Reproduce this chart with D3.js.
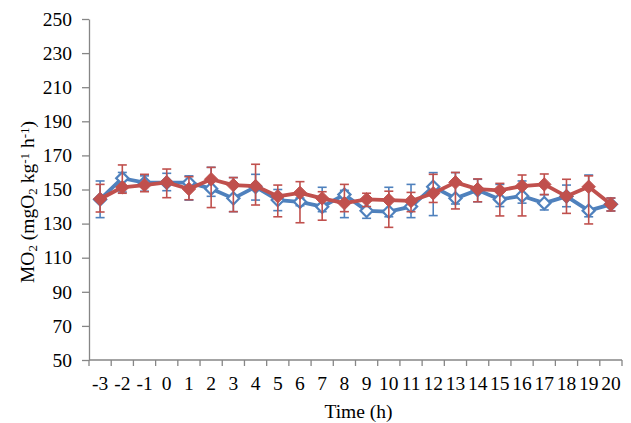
<!DOCTYPE html>
<html>
<head>
<meta charset="utf-8">
<script src="https://cdn.jsdelivr.net/npm/d3@7"></script>
<style>
  body { margin: 0; background: #fff; }
  text { font-family: "Liberation Serif", "Times New Roman", serif; }
</style>
</head>
<body>
<script>
var hours = ["-3","-2","-1","0","1","2","3","4","5","6","7","8","9","10","11","12","13","14","15","16","17","18","19","20"];
var yTicks = [50,70,90,110,130,150,170,190,210,230,250];

var blueMean = [144.2,156.6,154,154,154,150.5,144.8,151.5,143.8,142.8,139.9,147,137.5,137,140,151.6,144.8,149.7,144.2,146.2,142,146,137.6,141.3];
var blueUp   = [10.8,3.4,4,5.5,4,12.5,12.2,7.4,6.2,2.2,11.4,2.5,7.5,14.3,13,8.3,15.1,6.3,8.8,8.8,5,6.6,20.9,3.7];
var blueDown = [10.7,8.1,5,4.7,10.2,4.5,7.8,7.7,6.2,2.3,2.9,13.5,4.4,3,6.5,16.9,3.3,6.9,4.2,4.2,4,6.1,3.6,3.9];

var redMean = [144.4,151.3,152.6,154.2,150.3,156,152.6,152,146,148,144.8,142,144.2,143.8,143.3,147.8,154.2,150.2,149.5,152,153,146,151.6,141.3];
var redUp   = [8.6,13.1,6.3,7.8,7.2,7,4.4,12.8,6.6,6.6,3.9,11,3.6,5.2,5,11.1,5.8,6,4.1,6.5,6.1,10,6.4,3.7];
var redDown = [7.6,3.5,3.9,9,6.3,16.6,15.6,11.1,12,17.5,12.8,5,4.2,16,6.3,5.4,15.6,7.4,15,17.5,6,10,21.8,3.9];

var W = 631, H = 423;
var pLeft = 89, pRight = 622, pTop = 19, pBottom = 360;
var axisColor = "#868686";
var fs = "19.5px";

var svg = d3.select("body").append("svg")
    .attr("width", W)
    .attr("height", H);

var x = d3.scaleBand().domain(hours).range([pLeft, pRight]);
var y = d3.scaleLinear().domain([50, 250]).range([pBottom, pTop]);

// y axis
var yAxis = svg.append("g")
    .attr("transform", "translate(" + pLeft + ",0)")
    .call(d3.axisLeft(y).tickValues(yTicks).tickSize(7).tickSizeOuter(0).tickPadding(10));
yAxis.select(".domain").attr("stroke", axisColor).attr("stroke-width", 1.3);
yAxis.selectAll(".tick line").attr("stroke", axisColor).attr("stroke-width", 1.3);
yAxis.selectAll(".tick text").attr("fill", "#000").style("font-size", fs)
    .style("font-family", "Liberation Serif");

// x axis (labels centred in categories, ticks on boundaries)
var xAxis = svg.append("g")
    .attr("transform", "translate(0," + pBottom + ")")
    .call(d3.axisBottom(x).tickSize(0).tickPadding(16));
xAxis.select(".domain").remove();
xAxis.selectAll(".tick text").attr("fill", "#000").style("font-size", fs)
    .style("font-family", "Liberation Serif");

svg.append("line")
    .attr("x1", pLeft).attr("x2", pRight)
    .attr("y1", pBottom).attr("y2", pBottom)
    .attr("stroke", axisColor).attr("stroke-width", 1.3);

var bounds = hours.map(function(h) { return x(h); }).concat([x(hours[hours.length - 1]) + x.bandwidth()]);
svg.selectAll(".xtick").data(bounds).enter().append("line")
    .attr("class", "xtick")
    .attr("x1", function(d) { return d; }).attr("x2", function(d) { return d; })
    .attr("y1", pBottom).attr("y2", pBottom + 6)
    .attr("stroke", axisColor).attr("stroke-width", 1.3);

// axis titles
svg.append("text")
    .attr("x", (pLeft + pRight) / 2 + 3)
    .attr("y", 418)
    .attr("text-anchor", "middle")
    .style("font-size", fs)
    .text("Time (h)");

var yt = svg.append("text")
    .attr("transform", "translate(34,202) rotate(-90)")
    .attr("text-anchor", "middle")
    .style("font-size", fs);
yt.append("tspan").text("MO");
yt.append("tspan").attr("baseline-shift", "-25%").style("font-size", "13px").text("2");
yt.append("tspan").text(" (mgO");
yt.append("tspan").attr("baseline-shift", "-25%").style("font-size", "13px").text("2");
yt.append("tspan").text(" kg");
yt.append("tspan").attr("baseline-shift", "40%").style("font-size", "13px").text("-1");
yt.append("tspan").text(" h");
yt.append("tspan").attr("baseline-shift", "40%").style("font-size", "13px").text("-1");
yt.append("tspan").text(")");

function cx(i) { return x(hours[i]) + x.bandwidth() / 2; }

var line = d3.line()
    .x(function(d, i) { return cx(i); })
    .y(function(d) { return y(d); });

var diamond = d3.symbol().type(d3.symbolDiamond2);

function drawSeries(mean, up, down, color, filled) {
  var g = svg.append("g");
  var eb = g.selectAll(".eb").data(mean).enter().append("g");
  eb.append("line")
    .attr("x1", function(d, i) { return cx(i); })
    .attr("x2", function(d, i) { return cx(i); })
    .attr("y1", function(d, i) { return y(d + up[i]); })
    .attr("y2", function(d, i) { return y(d - down[i]); })
    .attr("stroke", color).attr("stroke-width", 1.6);
  eb.append("line")
    .attr("x1", function(d, i) { return cx(i) - 4.5; })
    .attr("x2", function(d, i) { return cx(i) + 4.5; })
    .attr("y1", function(d, i) { return y(d + up[i]); })
    .attr("y2", function(d, i) { return y(d + up[i]); })
    .attr("stroke", color).attr("stroke-width", 1.6);
  eb.append("line")
    .attr("x1", function(d, i) { return cx(i) - 4.5; })
    .attr("x2", function(d, i) { return cx(i) + 4.5; })
    .attr("y1", function(d, i) { return y(d - down[i]); })
    .attr("y2", function(d, i) { return y(d - down[i]); })
    .attr("stroke", color).attr("stroke-width", 1.6);

  g.append("path")
    .datum(mean)
    .attr("d", line)
    .attr("fill", "none")
    .attr("stroke", color)
    .attr("stroke-width", 3.8)
    .attr("stroke-linejoin", "round");

  g.selectAll(".mk").data(mean).enter().append("path")
    .attr("transform", function(d, i) { return "translate(" + cx(i) + "," + y(d) + ")"; })
    .attr("d", diamond.size(filled ? 115 : 95))
    .attr("fill", filled ? color : "#fff")
    .attr("stroke", color)
    .attr("stroke-width", filled ? 1 : 2.2);
}

drawSeries(blueMean, blueUp, blueDown, "#4F81BD", false);
drawSeries(redMean, redUp, redDown, "#C0504D", true);
</script>
</body>
</html>
